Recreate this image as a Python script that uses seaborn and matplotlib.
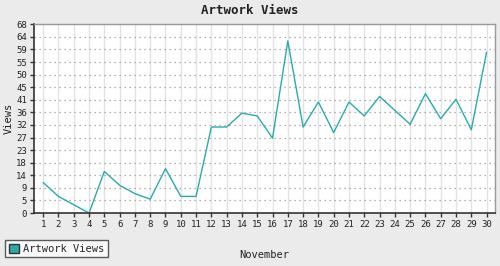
import matplotlib
matplotlib.use("Agg")
import matplotlib.pyplot as plt
from matplotlib.patches import Patch
import seaborn as sns
import pandas as pd
import numpy as np

days = list(range(1, 31))
views = [11, 6, 3, 0, 15, 10, 7, 5, 16, 6, 6, 31, 31, 36, 35, 27, 62, 31, 40, 29,
         40, 35, 42, 37, 32, 43, 34, 41, 30, 58]
ytick_labels = ["0", "5", "9", "14", "18", "23", "27", "32", "36", "41", "45", "50",
                "55", "59", "64", "68"]
y_max = 68

sns.set_theme(style="white")
plt.rcParams["font.family"] = ["DejaVu Sans Mono"]

bg = "#ebebeb"
teal = "#2aabab"

df = pd.DataFrame({"day": days, "views": views})

fig = plt.figure(figsize=(5.0, 2.66), dpi=100, facecolor=bg)
ax = fig.add_axes([0.068, 0.199, 0.9226, 0.7096])
ax.set_facecolor("white")

sns.lineplot(data=df, x="day", y="views", ax=ax, color=teal, linewidth=1.0,
             legend=False)

ax.set_xlim(0.4, 30.57)
ax.set_ylim(0, y_max)
yt = [y_max * k / (len(ytick_labels) - 1) for k in range(len(ytick_labels))]
ax.set_yticks(yt)
ax.set_yticklabels(ytick_labels)
ax.set_xticks(days)
ax.set_xticklabels([str(d) for d in days])

for d in days:
    ax.axvline(d, color="#e3e3e3", linewidth=1.0, zorder=0)
for v in yt[1:-1]:
    ax.axhline(v, color="#999999", linewidth=0.9, linestyle=(0, (1, 3)), zorder=0.5)

ax.tick_params(axis="both", which="both", direction="out", length=3, width=1,
               color="#333333", labelsize=6.5, labelcolor="#222222", pad=2,
               left=True, bottom=True)
for s in ["left", "bottom"]:
    ax.spines[s].set_color("#333333")
    ax.spines[s].set_linewidth(1.2)
for s in ["top", "right"]:
    ax.spines[s].set_color("#999999")
    ax.spines[s].set_linewidth(1.0)

ax.set_xlabel("November", fontsize=7.5, color="#222222", labelpad=15)
ax.set_ylabel("Views", fontsize=7.5, color="#222222", labelpad=2)
fig.suptitle("Artwork Views", x=0.5, y=0.985, fontsize=9, fontweight="bold",
             color="#222222")

handle = Patch(facecolor=teal, edgecolor="#333333", linewidth=1.0, label="Artwork Views")
leg = fig.legend(handles=[handle], loc="lower left", bbox_to_anchor=(0.01, 0.032),
                 fontsize=7.5, frameon=True, fancybox=False, handlelength=1.0,
                 handleheight=1.0, handletextpad=0.4, borderpad=0.35,
                 borderaxespad=0)
leg.get_frame().set_edgecolor("#333333")
leg.get_frame().set_linewidth(1.0)
leg.get_frame().set_facecolor("white")

fig.savefig("out.png", dpi=100, facecolor=bg)
